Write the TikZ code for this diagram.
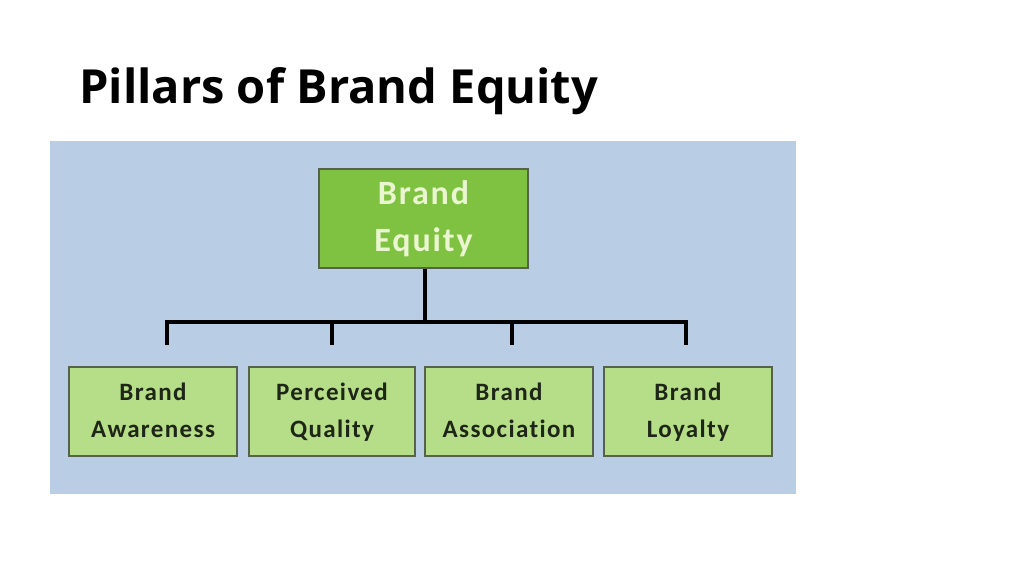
\documentclass[tikz,border=0pt]{standalone}
\usepackage{fontspec}
\newfontfamily\titlefam{Open Sans}
\newfontfamily\boxfam{Carlito}[LetterSpace=5.5,Ligatures=NoCommon]
\definecolor{bgblue}{HTML}{B9CDE5}
\definecolor{topgreen}{HTML}{7FC241}
\definecolor{topink}{HTML}{EAF6CF}
\definecolor{leafgreen}{HTML}{B6DD87}
\definecolor{boxedge}{HTML}{56634C}
\definecolor{leafink}{HTML}{1E2618}
\newcommand\lineS[1]{#1\strut}
\tikzset{
  topbox/.style={draw=boxedge, line width=1.2pt, fill=topgreen, text=topink,
    minimum width=209pt, minimum height=99pt, inner sep=0pt, align=center,
    font=\boxfam\bfseries\fontsize{34}{47}\selectfont},
  leafbox/.style={draw=boxedge, line width=1.2pt, fill=leafgreen, text=leafink,
    minimum height=89pt, inner sep=0pt, align=center,
    font=\boxfam\bfseries\fontsize{25}{37}\selectfont},
  link/.style={draw=black, line width=4.5pt, line join=miter, line cap=butt},
}
\begin{document}
\begin{tikzpicture}[x=1pt,y=-1pt]
\useasboundingbox (0,0) rectangle (1024,575);
\fill[white] (0,0) rectangle (1024,575);
\node[anchor=base west, inner sep=0pt, font=\titlefam\bfseries\fontsize{47}{56}\selectfont] (title) at (79,103) {Pillars of Brand Equity};
\fill[bgblue] (50,141) rectangle (796,494);
\node[topbox] (top) at (423.5,218.5) {\lineS{Brand}\\\lineS{Equity}};
\node[leafbox, minimum width=168pt] (b1) at (153,411.5) {\lineS{Brand}\\\lineS{Awareness}};
\node[leafbox, minimum width=166pt] (b2) at (332,411.5) {\lineS{Perceived}\\\lineS{Quality}};
\node[leafbox, minimum width=168pt] (b3) at (509,411.5) {\lineS{Brand}\\\lineS{Association}};
\node[leafbox, minimum width=168pt] (b4) at (688,411.5) {\lineS{Brand}\\\lineS{Loyalty}};
\coordinate (jt) at (425,322);
\coordinate (j1) at (167,322);
\coordinate (j2) at (332,322);
\coordinate (j3) at (512,322);
\coordinate (j4) at (686,322);
\coordinate (e1) at (167,345);
\coordinate (e2) at (332,345);
\coordinate (e3) at (512,345);
\coordinate (e4) at (686,345);
\draw[link] (top.south -| jt) -- (jt);
\draw[link] (e1) -- (j1) -- (j4) -- (e4);
\draw[link] (j2) -- (e2);
\draw[link] (j3) -- (e3);
\end{tikzpicture}
\end{document}
